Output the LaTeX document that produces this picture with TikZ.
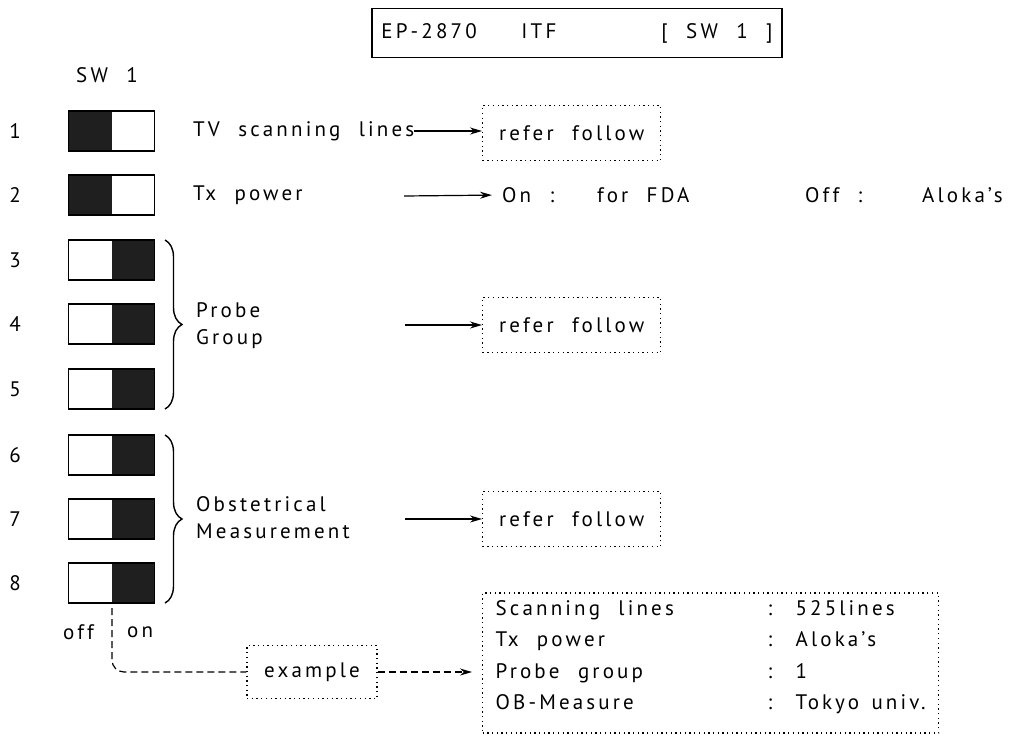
\documentclass[tikz,border=0pt]{standalone}
\usepackage{fontspec}
\setmainfont[LetterSpace=15,WordSpace=2.1]{PT Sans}
\usetikzlibrary{arrows.meta,decorations.pathreplacing}
\begin{document}
\begin{tikzpicture}[x=1pt,y=-1pt,
  every node/.style={font=\fontsize{21}{27}\selectfont},
  txt/.style={anchor=west,inner sep=0pt},
  num/.style={inner sep=0pt},
  switchbox/.style={draw,line width=1.6pt,minimum width=86pt,minimum height=40pt,inner sep=0pt},
  dotbox/.style={draw,dotted,line width=1.3pt,dash pattern=on 1.3pt off 3.4pt},
  refbox/.style={dotbox,anchor=west,inner sep=2pt,minimum width=178pt,minimum height=55pt},
  arr/.style={-{Stealth[length=12pt,width=7pt]},line width=1.2pt},
  dsh/.style={line width=1.2pt,dash pattern=on 7pt off 4pt},
  brc/.style={decorate,decoration={brace,amplitude=17pt},line width=1.4pt}
]
\useasboundingbox (0,0) rectangle (1024,744);
% title
\node[draw,line width=1.6pt,minimum width=410pt,minimum height=49pt,inner sep=0pt] (title) at (577,33)
  {\makebox[140pt][l]{EP-2870}\makebox[140pt][l]{ITF}[ SW 1 ]};
\node[num] (swlabel) at (107,75) {SW 1};
% rows
\foreach \i/\y in {1/131,2/195,3/260,4/324,5/389,6/455,7/519,8/583}{
  \node[num] (n\i) at (15,\y) {\i};
  \node[switchbox] (s\i) at (111.5,\y) {};
}
\foreach \i in {1,2}{ \fill[black!88] (s\i.north west) rectangle (s\i.south); }
\foreach \i in {3,...,8}{ \fill[black!88] (s\i.north) rectangle (s\i.south east); }
\foreach \i in {1,...,8}{ \node[switchbox] at (s\i) {}; }
% braces
\draw[brc] (165,240) -- (165,409);
\draw[brc] (165,435) -- (165,603);
% row texts
\node[txt] (tv) at (193,131) {TV scanning lines};
\node[refbox] (ref1) at (482,133) {refer follow};
\draw[arr] (tv.east) -- (tv.east -| ref1.west);
\node[txt] (tx) at (193,195) {Tx power};
\coordinate (a2) at (404,196);
\node[txt] (on) at (502,195) {On :};
\node[txt] (fda) at (597,195) {for FDA};
\node[txt] (off2) at (805,195) {Off :};
\node[txt] (aloka) at (922,195) {Aloka's};
\draw[arr,shorten >=10pt] (a2) -- (on.west);
\node[txt,align=left] (probe) at (196,326) {Probe\\Group};
\coordinate (a3) at (405,325);
\node[refbox] (ref2) at (482,325) {refer follow};
\draw[arr] (a3) -- (ref2.west);
\node[txt,align=left] (obst) at (196,518) {Obstetrical\\Measurement};
\coordinate (a4) at (405,519);
\node[refbox] (ref3) at (482,519) {refer follow};
\draw[arr] (a4) -- (ref3.west);
% off / on
\node[txt] (offl) at (63,632) {off};
\node[txt] (onl) at (127,632) {on};
\coordinate (sep) at (112,608);
\node[dotbox,minimum width=130pt,minimum height=53pt,inner sep=0pt] (example) at (312,672) {example};
\draw[dsh,rounded corners=12pt] (sep) |- (example.west);
\node[dotbox,anchor=base west,inner xsep=13pt,inner ysep=0pt,text depth=118pt,
      font=\fontsize{21}{31.5}\selectfont] (exbox) at (482,615)
 {\begin{tabular}[t]{@{}p{272pt}@{}p{28pt}@{}p{130pt}@{}}
 Scanning lines & : & 525lines\\
 Tx power & : & Aloka's\\
 Probe group & : & 1\\
 OB-Measure & : & Tokyo univ.
 \end{tabular}};
\draw[dsh,-{Stealth[length=12pt,width=7pt]},shorten >=10pt] (example.east) -- (example.east -| exbox.west);
\end{tikzpicture}
\end{document}
